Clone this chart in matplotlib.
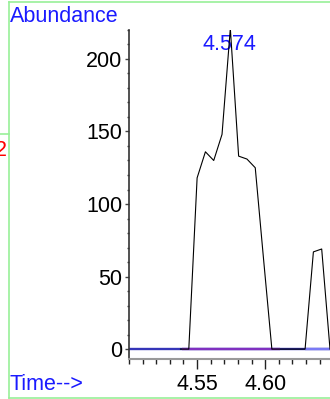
import matplotlib
matplotlib.use("Agg")
import matplotlib.pyplot as plt
from matplotlib.lines import Line2D
from matplotlib.ticker import MultipleLocator, FixedLocator

plt.rcParams['font.family'] = ['Liberation Sans', 'DejaVu Sans']

# chromatogram trace (time in min, abundance)
times = [4.5378, 4.5439, 4.5500, 4.5561, 4.5622, 4.5683, 4.5744, 4.5805,
         4.5866, 4.5927, 4.5988, 4.6049, 4.6110, 4.6171, 4.6232, 4.6293,
         4.6354, 4.6415, 4.6476]
abundance = [0, 0, 118, 136, 130, 148, 221, 133,
             131, 125, 62, 0, 0, 0, 0, 0,
             67, 69, 0]

# integration baseline pieces (start, end)
base_full = (4.500, 4.6476)
base_peak1 = (4.539, 4.611)
base_peak2 = (4.629, 4.6476)

peak_time = 4.574
peak_label = "4.574"
major_xticks = [4.55, 4.60]

fig = plt.figure(figsize=(3.30, 3.99), dpi=100)
ax = fig.add_axes([0.391, 0.100, 0.609, 0.825])

ax.plot(list(base_full), [0, 0], color="#3535b8", lw=1.7, zorder=2, solid_capstyle="butt")
ax.plot(list(base_peak1), [0, 0], color="#8030c0", lw=1.7, zorder=3, solid_capstyle="butt")
ax.plot(list(base_peak2), [0, 0], color="#7a7af5", lw=1.7, zorder=3, solid_capstyle="butt")
ax.plot(times, abundance, color="black", lw=0.8, zorder=4)

ax.text(peak_time, 210, peak_label, color="#1a1aff", fontsize=15.5,
        ha="center", va="center", zorder=3)

ax.set_xlim(4.500, 4.6476)
ax.set_ylim(-6.9, 220)

ax.xaxis.set_major_locator(FixedLocator(major_xticks))
ax.xaxis.set_minor_locator(MultipleLocator(0.01))
ax.xaxis.set_major_formatter(matplotlib.ticker.FormatStrFormatter("%.2f"))
ax.yaxis.set_major_locator(MultipleLocator(50))
ax.yaxis.set_minor_locator(MultipleLocator(10))

ax.tick_params(axis="x", which="major", length=7, width=1, pad=4, labelsize=15.5, color="#222222")
ax.tick_params(axis="x", which="minor", length=3.5, width=1, color="#222222")
ax.tick_params(axis="y", which="major", length=3, width=1, pad=2, labelsize=15.5, color="#444444")
ax.tick_params(axis="y", which="minor", length=1.5, width=1, color="#444444")

ax.spines["top"].set_visible(False)
ax.spines["right"].set_visible(False)
ax.spines["left"].set_color("#333333")
ax.spines["left"].set_linewidth(1.2)
ax.spines["bottom"].set_color("#999999")
ax.spines["bottom"].set_linewidth(1.5)

fig.text(10 / 330, 1 - 16 / 399, "Abundance", color="#1a1aff", fontsize=15.5,
         ha="left", va="center")
fig.text(10 / 330, 1 - 385 / 399, "Time-->", color="#1a1aff", fontsize=15.5,
         ha="left", va="center")
fig.text(-5 / 330, 1 - 150 / 399, "2", color="red", fontsize=15.5,
         ha="left", va="center")

green = "#98f098"
fig.add_artist(Line2D([8.5 / 330, 8.5 / 330], [1 - 2 / 399, 1 - 398 / 399],
                      transform=fig.transFigure, color=green, lw=1.2))
fig.add_artist(Line2D([8.5 / 330, 1], [1 - 2 / 399, 1 - 2 / 399],
                      transform=fig.transFigure, color=green, lw=1.2))
fig.add_artist(Line2D([8.5 / 330, 1], [1 - 398 / 399, 1 - 398 / 399],
                      transform=fig.transFigure, color=green, lw=1.2))
fig.add_artist(Line2D([0, 8.5 / 330], [1 - 134 / 399, 1 - 134 / 399],
                      transform=fig.transFigure, color=green, lw=1.2))

fig.savefig("out.png", dpi=100)
